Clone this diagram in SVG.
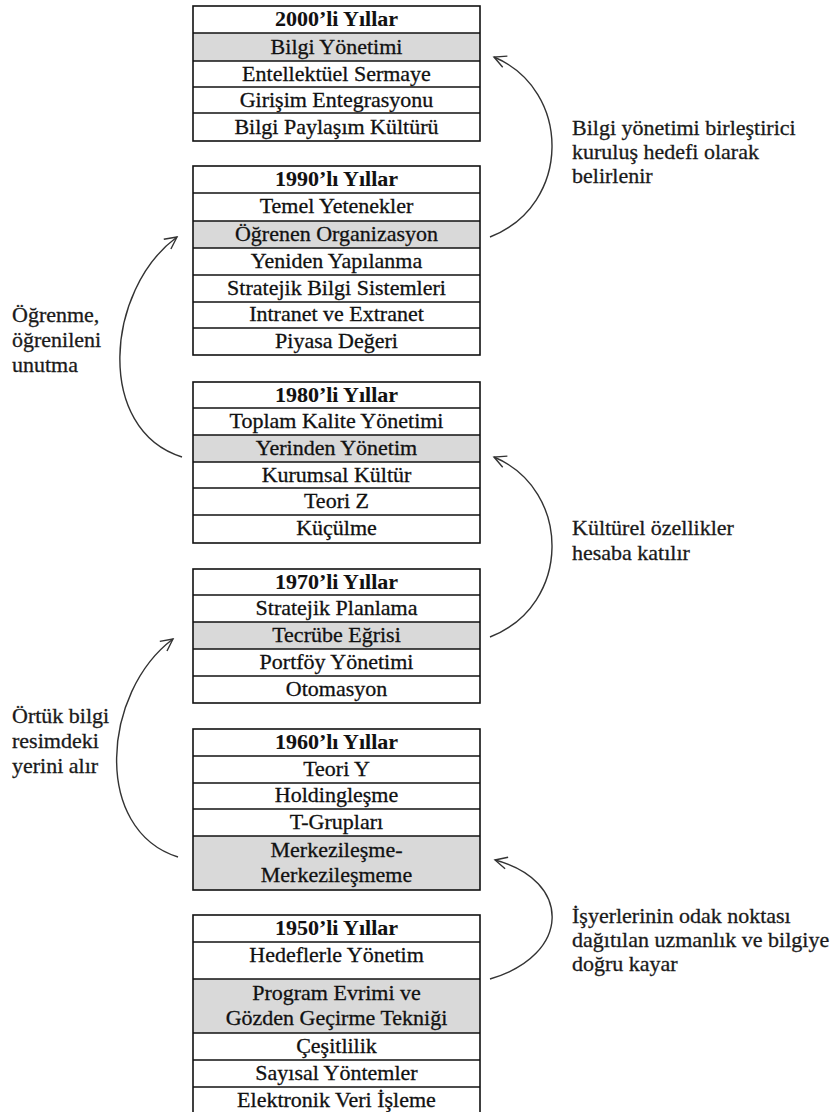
<svg xmlns="http://www.w3.org/2000/svg" width="838" height="1112" viewBox="0 0 838 1112">
  <style>
    .bg { fill: #ffffff; }
    .frame { fill: none; stroke: #111; stroke-width: 1.6; }
    .rule { stroke: #111; stroke-width: 1.3; }
    .shade { fill: #d9d9d9; }
    .cell { font-family: "Liberation Serif", "DejaVu Serif", serif; font-size: 22px; fill: #111; stroke: #111; stroke-width: 0.3; text-anchor: middle; }
    .head { font-weight: bold; stroke-width: 0.1; }
    .note { font-family: "Liberation Serif", "DejaVu Serif", serif; font-size: 22px; fill: #1a1a1a; stroke: #1a1a1a; stroke-width: 0.3; }
    .curve { fill: none; stroke: #333; stroke-width: 1.4; marker-end: url(#open); }
  </style>
  <defs>
    <marker id="open" markerUnits="userSpaceOnUse" viewBox="-1 -1 15 14" refX="12" refY="6" markerWidth="15" markerHeight="14" orient="auto">
      <path d="M0,0 L12,6 L0,12" fill="none" stroke="#333" stroke-width="1.4"/>
    </marker>
  </defs>

  <rect class="bg" x="0" y="0" width="838" height="1112"/>

  <!-- 2000s -->
  <g id="decade-2000">
    <rect class="shade" x="193" y="33" width="287" height="28"/>
    <rect class="frame" x="193" y="6" width="287" height="135"/>
    <line class="rule" x1="193" y1="33" x2="480" y2="33"/>
    <line class="rule" x1="193" y1="61" x2="480" y2="61"/>
    <line class="rule" x1="193" y1="87" x2="480" y2="87"/>
    <line class="rule" x1="193" y1="113" x2="480" y2="113"/>
    <text class="cell head" x="336.5" y="26">2000’li Yıllar</text>
    <text class="cell" x="336.5" y="54">Bilgi Yönetimi</text>
    <text class="cell" x="336.5" y="81">Entellektüel Sermaye</text>
    <text class="cell" x="336.5" y="107">Girişim Entegrasyonu</text>
    <text class="cell" x="336.5" y="134">Bilgi Paylaşım Kültürü</text>
  </g>

  <!-- 1990s -->
  <g id="decade-1990">
    <rect class="shade" x="193" y="221" width="287" height="27"/>
    <rect class="frame" x="193" y="166" width="287" height="189"/>
    <line class="rule" x1="193" y1="193" x2="480" y2="193"/>
    <line class="rule" x1="193" y1="221" x2="480" y2="221"/>
    <line class="rule" x1="193" y1="248" x2="480" y2="248"/>
    <line class="rule" x1="193" y1="275" x2="480" y2="275"/>
    <line class="rule" x1="193" y1="302" x2="480" y2="302"/>
    <line class="rule" x1="193" y1="328" x2="480" y2="328"/>
    <text class="cell head" x="336.5" y="186">1990’lı Yıllar</text>
    <text class="cell" x="336.5" y="213">Temel Yetenekler</text>
    <text class="cell" x="336.5" y="241">Öğrenen Organizasyon</text>
    <text class="cell" x="336.5" y="268">Yeniden Yapılanma</text>
    <text class="cell" x="336.5" y="295">Stratejik Bilgi Sistemleri</text>
    <text class="cell" x="336.5" y="321">Intranet ve Extranet</text>
    <text class="cell" x="336.5" y="348">Piyasa Değeri</text>
  </g>

  <!-- 1980s -->
  <g id="decade-1980">
    <rect class="shade" x="193" y="435" width="287" height="27"/>
    <rect class="frame" x="193" y="382" width="287" height="161"/>
    <line class="rule" x1="193" y1="408" x2="480" y2="408"/>
    <line class="rule" x1="193" y1="435" x2="480" y2="435"/>
    <line class="rule" x1="193" y1="462" x2="480" y2="462"/>
    <line class="rule" x1="193" y1="488" x2="480" y2="488"/>
    <line class="rule" x1="193" y1="515" x2="480" y2="515"/>
    <text class="cell head" x="336.5" y="402">1980’li Yıllar</text>
    <text class="cell" x="336.5" y="428">Toplam Kalite Yönetimi</text>
    <text class="cell" x="336.5" y="455">Yerinden Yönetim</text>
    <text class="cell" x="336.5" y="482">Kurumsal Kültür</text>
    <text class="cell" x="336.5" y="508">Teori Z</text>
    <text class="cell" x="336.5" y="535">Küçülme</text>
  </g>

  <!-- 1970s -->
  <g id="decade-1970">
    <rect class="shade" x="193" y="622" width="287" height="27"/>
    <rect class="frame" x="193" y="569" width="287" height="134"/>
    <line class="rule" x1="193" y1="595" x2="480" y2="595"/>
    <line class="rule" x1="193" y1="622" x2="480" y2="622"/>
    <line class="rule" x1="193" y1="649" x2="480" y2="649"/>
    <line class="rule" x1="193" y1="676" x2="480" y2="676"/>
    <text class="cell head" x="336.5" y="589">1970’li Yıllar</text>
    <text class="cell" x="336.5" y="615">Stratejik Planlama</text>
    <text class="cell" x="336.5" y="642">Tecrübe Eğrisi</text>
    <text class="cell" x="336.5" y="669">Portföy Yönetimi</text>
    <text class="cell" x="336.5" y="696">Otomasyon</text>
  </g>

  <!-- 1960s -->
  <g id="decade-1960">
    <rect class="shade" x="193" y="836" width="287" height="54"/>
    <rect class="frame" x="193" y="729" width="287" height="161"/>
    <line class="rule" x1="193" y1="756" x2="480" y2="756"/>
    <line class="rule" x1="193" y1="783" x2="480" y2="783"/>
    <line class="rule" x1="193" y1="809" x2="480" y2="809"/>
    <line class="rule" x1="193" y1="836" x2="480" y2="836"/>
    <text class="cell head" x="336.5" y="749">1960’lı Yıllar</text>
    <text class="cell" x="336.5" y="776">Teori Y</text>
    <text class="cell" x="336.5" y="802">Holdingleşme</text>
    <text class="cell" x="336.5" y="829">T-Grupları</text>
    <text class="cell" x="336.5" y="857">Merkezileşme-</text>
    <text class="cell" x="336.5" y="882">Merkezileşmeme</text>
  </g>

  <!-- 1950s -->
  <g id="decade-1950">
    <rect class="shade" x="193" y="979" width="287" height="54"/>
    <rect class="frame" x="193" y="915" width="287" height="200"/>
    <line class="rule" x1="193" y1="942" x2="480" y2="942"/>
    <line class="rule" x1="193" y1="979" x2="480" y2="979"/>
    <line class="rule" x1="193" y1="1033" x2="480" y2="1033"/>
    <line class="rule" x1="193" y1="1060" x2="480" y2="1060"/>
    <line class="rule" x1="193" y1="1087" x2="480" y2="1087"/>
    <text class="cell head" x="336.5" y="935">1950’li Yıllar</text>
    <text class="cell" x="336.5" y="962">Hedeflerle Yönetim</text>
    <text class="cell" x="336.5" y="1000">Program Evrimi ve</text>
    <text class="cell" x="336.5" y="1025">Gözden Geçirme Tekniği</text>
    <text class="cell" x="336.5" y="1053">Çeşitlilik</text>
    <text class="cell" x="336.5" y="1080">Sayısal Yöntemler</text>
    <text class="cell" x="336.5" y="1107">Elektronik Veri İşleme</text>
  </g>

  <!-- curved transition arrows -->
  <g id="connectors">
    <path class="curve" d="M490,237 C572,205 572,90 494,57"/>
    <path class="curve" d="M182,457 C95,430 105,290 177,237"/>
    <path class="curve" d="M490,637 C572,605 572,490 494,457"/>
    <path class="curve" d="M178,857 C92,830 102,692 173,639"/>
    <path class="curve" d="M490,979 C572,955 572,880 495,860"/>
  </g>

  <!-- arrow captions -->
  <g id="caption-knowledge-goal">
    <text class="note" x="572" y="135">Bilgi yönetimi birleştirici</text>
    <text class="note" x="572" y="159">kuruluş hedefi olarak</text>
    <text class="note" x="572" y="183">belirlenir</text>
  </g>
  <g id="caption-learning">
    <text class="note" x="12" y="322">Öğrenme,</text>
    <text class="note" x="12" y="347">öğrenileni</text>
    <text class="note" x="12" y="372">unutma</text>
  </g>
  <g id="caption-culture">
    <text class="note" x="572" y="535">Kültürel özellikler</text>
    <text class="note" x="572" y="560">hesaba katılır</text>
  </g>
  <g id="caption-tacit">
    <text class="note" x="12" y="723">Örtük bilgi</text>
    <text class="note" x="12" y="748">resimdeki</text>
    <text class="note" x="12" y="773">yerini alır</text>
  </g>
  <g id="caption-workplace">
    <text class="note" x="572" y="923">İşyerlerinin odak noktası</text>
    <text class="note" x="572" y="947">dağıtılan uzmanlık ve bilgiye</text>
    <text class="note" x="572" y="971">doğru kayar</text>
  </g>
</svg>
